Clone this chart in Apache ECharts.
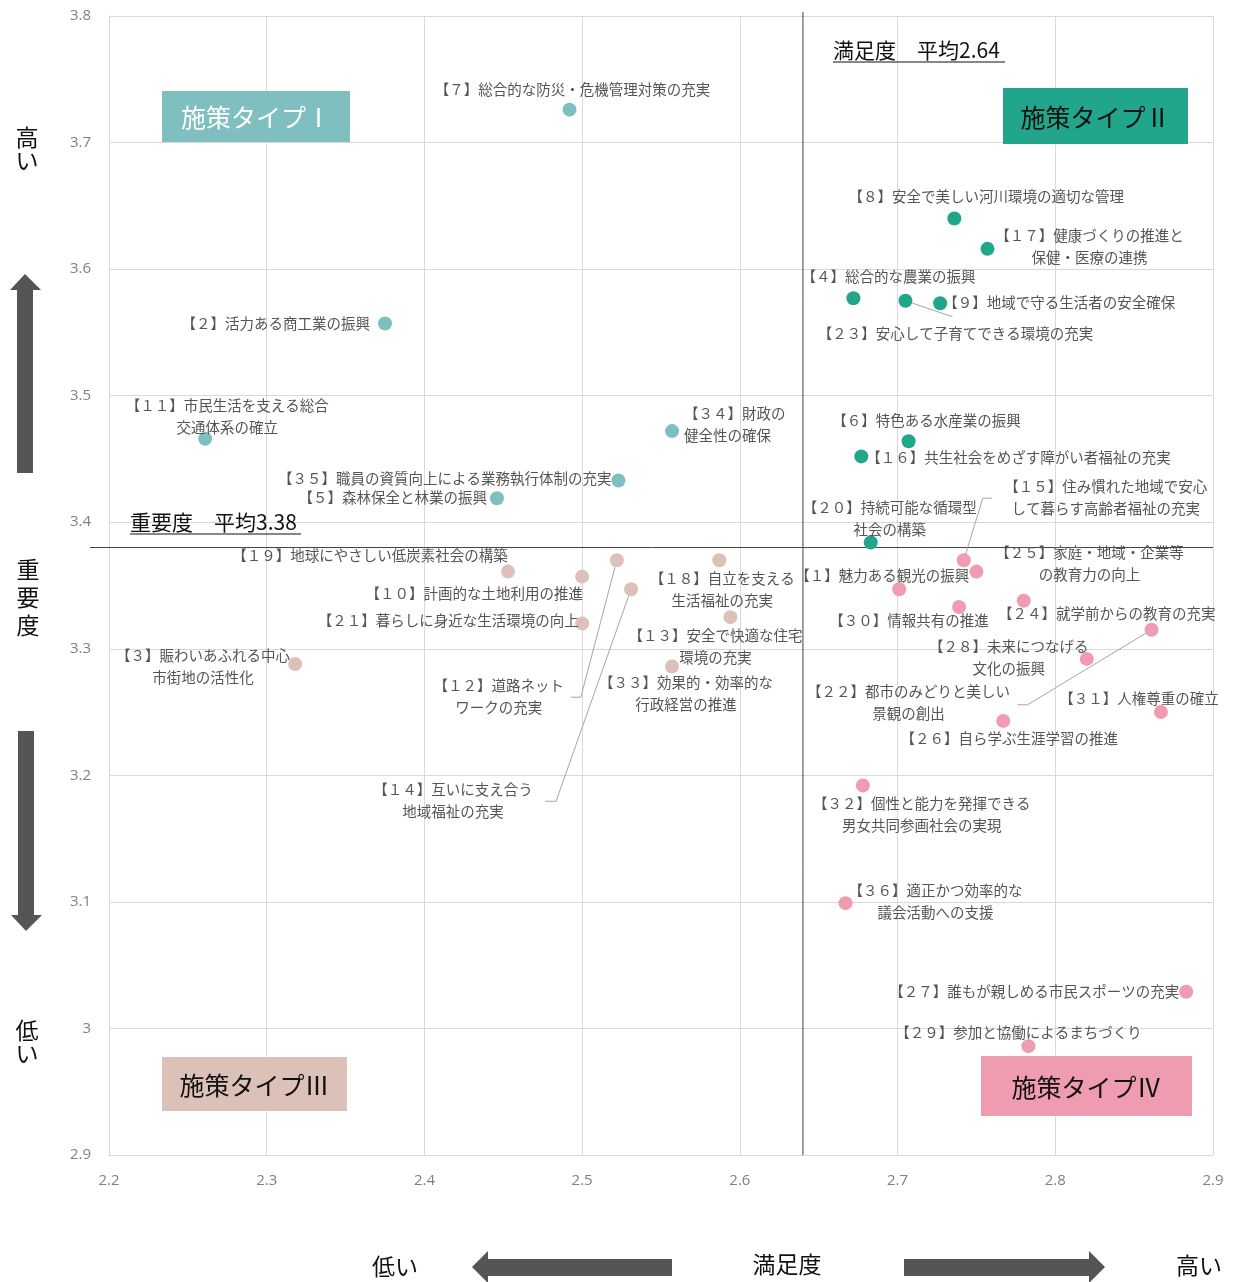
<!DOCTYPE html>
<html lang="ja">
<head>
<meta charset="utf-8">
<title>施策の重要度・満足度</title>
<script src="https://cdn.jsdelivr.net/npm/echarts@6/dist/echarts.min.js"></script>
<style>
  html, body { margin: 0; padding: 0; background: #fff; }
  #chart { width: 1237px; height: 1282px; }
</style>
</head>
<body>
<div id="chart"></div>
<script>
// 施策名（番号順）
const policyNames = [
  '【１】魅力ある観光の振興',
  '【２】活力ある商工業の振興',
  '【３】賑わいあふれる中心\n市街地の活性化',
  '【４】総合的な農業の振興',
  '【５】森林保全と林業の振興',
  '【６】特色ある水産業の振興',
  '【７】総合的な防災・危機管理対策の充実',
  '【８】安全で美しい河川環境の適切な管理',
  '【９】地域で守る生活者の安全確保',
  '【１０】計画的な土地利用の推進',
  '【１１】市民生活を支える総合\n交通体系の確立',
  '【１２】道路ネット\nワークの充実',
  '【１３】安全で快適な住宅\n環境の充実',
  '【１４】互いに支え合う\n地域福祉の充実',
  '【１５】住み慣れた地域で安心\nして暮らす高齢者福祉の充実',
  '【１６】共生社会をめざす障がい者福祉の充実',
  '【１７】健康づくりの推進と\n保健・医療の連携',
  '【１８】自立を支える\n生活福祉の充実',
  '【１９】地球にやさしい低炭素社会の構築',
  '【２０】持続可能な循環型\n社会の構築',
  '【２１】暮らしに身近な生活環境の向上',
  '【２２】都市のみどりと美しい\n景観の創出',
  '【２３】安心して子育てできる環境の充実',
  '【２４】就学前からの教育の充実',
  '【２５】家庭・地域・企業等\nの教育力の向上',
  '【２６】自ら学ぶ生涯学習の推進',
  '【２７】誰もが親しめる市民スポーツの充実',
  '【２８】未来につなげる\n文化の振興',
  '【２９】参加と協働によるまちづくり',
  '【３０】情報共有の推進',
  '【３１】人権尊重の確立',
  '【３２】個性と能力を発揮できる\n男女共同参画社会の実現',
  '【３３】効果的・効率的な\n行政経営の推進',
  '【３４】財政の\n健全性の確保',
  '【３５】職員の資質向上による業務執行体制の充実',
  '【３６】適正かつ効率的な\n議会活動への支援'
];

// 満足度（横軸）
const satisfaction = [
  2.701, 2.375, 2.318, 2.672, 2.446, 2.707, 2.492, 2.736, 2.727, 2.500,
  2.261, 2.522, 2.594, 2.531, 2.742, 2.677, 2.757, 2.587, 2.453, 2.683,
  2.500, 2.861, 2.705, 2.780, 2.750, 2.767, 2.883, 2.820, 2.783, 2.739,
  2.867, 2.678, 2.557, 2.557, 2.523, 2.667
];

// 重要度（縦軸）
const importance = [
  3.347, 3.557, 3.288, 3.577, 3.419, 3.464, 3.726, 3.640, 3.573, 3.357,
  3.466, 3.370, 3.325, 3.347, 3.370, 3.452, 3.616, 3.370, 3.361, 3.384,
  3.320, 3.315, 3.575, 3.338, 3.361, 3.243, 3.029, 3.292, 2.986, 3.333,
  3.250, 3.192, 3.286, 3.472, 3.433, 3.099
];

// 施策タイプ（1:Ⅰ 2:Ⅱ 3:Ⅲ 4:Ⅳ）
const policyType = [
  4, 1, 3, 2, 1, 2, 1, 2, 2, 3,
  1, 3, 3, 3, 4, 2, 2, 3, 3, 2,
  3, 4, 2, 4, 4, 4, 4, 4, 4, 4,
  4, 4, 3, 1, 1, 4
];

const typeNames = ['施策タイプⅠ', '施策タイプⅡ', '施策タイプⅢ', '施策タイプⅣ'];
const satisfactionAvg = 2.64;
const importanceAvg = 3.38;
const xTicks = { min: 2.2, max: 2.9, interval: 0.1 };
const yTicks = { min: 2.9, max: 3.8, interval: 0.1 };

// ---- 見た目の設定 ----
const typeColors = ['#7fbfbf', '#21a68b', '#dcc1b8', '#f09cb0'];
const boxTextColors = ['#ffffff', '#111111', '#111111', '#111111'];
const FONT = '"Noto Sans CJK JP", "Noto Sans", sans-serif';

// ラベル配置 [dx, dy, align]（点の中心からのピクセル量）
const labelPlacement = {
  1: [-17, -14, 'center'], 2: [-15, 0, 'right'], 3: [-92, 3, 'center'],
  4: [35, -22, 'center'], 5: [-10, -1, 'right'], 6: [18, -21, 'center'],
  7: [3, -20, 'center'], 8: [32, -22, 'center'], 9: [3, -1, 'left'],
  10: [-108, 17, 'center'], 11: [22, -22, 'center'], 12: [-118, 136, 'center'],
  13: [-15, 29, 'center'], 14: [-178, 211, 'center'], 15: [142, -63, 'center'],
  16: [5, 1, 'left'], 17: [102, -2, 'center'], 18: [3, 29, 'center'],
  19: [-138, -16, 'center'], 20: [19, -24, 'center'], 21: [-134, -3, 'center'],
  22: [-243, 73, 'center'], 23: [50, 33, 'center'], 24: [83, 13, 'center'],
  25: [113, -8, 'center'], 26: [6, 18, 'center'], 27: [-7, 0, 'right'],
  28: [-78, -1, 'center'], 29: [-10, -14, 'center'], 30: [-50, 13, 'center'],
  31: [-22, -14, 'center'], 32: [59, 29, 'center'], 33: [14, 27, 'center'],
  34: [12, -7, 'left'], 35: [-7, -2, 'right'], 36: [90, -2, 'center']
};

// 引き出し線の折れ点（点の中心からのピクセル量）
const leaderLines = {
  12: [[-36, 137], [-46, 137]],
  14: [[-75, 212], [-86, 212]],
  15: [[19, -62], [28, -62]],
  22: [[-124, 75], [-134, 75]],
  23: [[47, 16]]
};

const chart = echarts.init(document.getElementById('chart'), null, { renderer: 'canvas' });

function buildSeries(t) {
  const data = [];
  policyNames.forEach((name, i) => {
    if (policyType[i] !== t + 1) return;
    const id = i + 1;
    const p = labelPlacement[id];
    data.push({
      name: name,
      value: [satisfaction[i], importance[i]],
      label: {
        show: true,
        position: 'inside',
        formatter: name,
        offset: [p[0], p[1]],
        align: p[2],
        verticalAlign: 'middle'
      }
    });
  });
  return {
    type: 'scatter',
    name: typeNames[t],
    symbolSize: 14,
    z: 5,
    itemStyle: { color: typeColors[t], opacity: 1 },
    label: {
      fontFamily: FONT,
      fontSize: 14.5,
      color: '#555555',
      lineHeight: 22
    },
    emphasis: { disabled: true },
    data: data
  };
}

const axisCommon = {
  type: 'value',
  axisLine: { show: true, lineStyle: { color: '#d9d9d9', width: 1 } },
  axisTick: { show: false },
  splitLine: { show: true, lineStyle: { color: '#d9d9d9', width: 1 } },
  axisLabel: { color: '#808080', fontSize: 15, fontFamily: '"Open Sans", sans-serif' }
};

chart.setOption({
  animation: false,
  backgroundColor: '#ffffff',
  grid: { left: 109, right: 24, top: 16, bottom: 127 },
  xAxis: Object.assign({}, axisCommon, {
    min: xTicks.min, max: xTicks.max, interval: xTicks.interval,
    axisLabel: Object.assign({}, axisCommon.axisLabel, { margin: 18 })
  }),
  yAxis: Object.assign({}, axisCommon, {
    min: yTicks.min, max: yTicks.max, interval: yTicks.interval,
    axisLabel: Object.assign({}, axisCommon.axisLabel, { margin: 18 })
  }),
  series: [0, 1, 2, 3].map(buildSeries)
});

// ---- 注記（平均線・引き出し線・タイプ見出し・軸の矢印） ----
function toPx(x, y) { return chart.convertToPixel({ gridIndex: 0 }, [x, y]); }

const gridTop = toPx(xTicks.min, yTicks.max);
const gridBottom = toPx(xTicks.max, yTicks.min);
const avgPt = toPx(satisfactionAvg, importanceAvg);

const graphics = [];

// 平均線
graphics.push({
  type: 'line', z: 3, silent: true,
  shape: { x1: avgPt[0], y1: gridTop[1] - 4, x2: avgPt[0], y2: gridBottom[1] },
  style: { stroke: '#404040', lineWidth: 1 }
});
graphics.push({
  type: 'line', z: 3, silent: true,
  shape: { x1: gridTop[0] - 19, y1: avgPt[1], x2: gridBottom[0], y2: avgPt[1] },
  style: { stroke: '#404040', lineWidth: 1 }
});

// 引き出し線
Object.keys(leaderLines).forEach(k => {
  const i = Number(k) - 1;
  const c = toPx(satisfaction[i], importance[i]);
  const pts = [c].concat(leaderLines[k].map(d => [c[0] + d[0], c[1] + d[1]]));
  graphics.push({
    type: 'polyline', z: 4, silent: true,
    shape: { points: pts },
    style: { stroke: '#a6a6a6', lineWidth: 1, fill: null }
  });
});

// 平均値の見出し（下線付き）
function underlinedText(text, x, y, w) {
  graphics.push({
    type: 'text', z: 6, silent: true,
    style: { text: text, x: x, y: y, fontSize: 21, fontFamily: FONT, fill: '#111', textAlign: 'left', textVerticalAlign: 'middle' }
  });
  graphics.push({
    type: 'line', z: 6, silent: true,
    shape: { x1: x, y1: y + 12, x2: x + w, y2: y + 12 },
    style: { stroke: '#111', lineWidth: 1.2 }
  });
}
underlinedText('満足度　平均2.64', 833, 50, 172);
underlinedText('重要度　平均3.38', 130, 522, 171);

// タイプ見出しの箱
const typeBoxes = [
  [162, 91, 188, 51],
  [1003, 88, 185, 56],
  [162, 1057, 185, 54],
  [981, 1056, 211, 60]
];
typeBoxes.forEach((b, t) => {
  graphics.push({
    type: 'rect', z: 6, silent: true,
    shape: { x: b[0], y: b[1], width: b[2], height: b[3] },
    style: { fill: typeColors[t] }
  });
  graphics.push({
    type: 'text', z: 7, silent: true,
    style: {
      text: typeNames[t], x: b[0] + b[2] / 2, y: b[1] + b[3] / 2 + 1,
      fontSize: 25, fontFamily: FONT, fill: boxTextColors[t],
      textAlign: 'center', textVerticalAlign: 'middle'
    }
  });
});

// 軸の説明文字
function plainText(text, x, y, lh) {
  graphics.push({
    type: 'text', z: 6, silent: true,
    style: {
      text: text, x: x, y: y, fontSize: 23, lineHeight: lh || 26, fontFamily: FONT, fill: '#111',
      textAlign: 'center', textVerticalAlign: 'middle'
    }
  });
}
plainText('高\nい', 27, 149, 23);
plainText('重\n要\n度', 28, 597, 28);
plainText('低\nい', 27, 1042, 23);
plainText('低い', 395, 1266);
plainText('満足度', 787, 1264);
plainText('高い', 1199, 1265);

// 矢印
const ARROW = '#555555';
function arrow(points) {
  graphics.push({ type: 'polygon', z: 6, silent: true, shape: { points: points }, style: { fill: ARROW } });
}
// 上向き
arrow([[25, 274], [41, 290], [33, 290], [33, 473], [17, 473], [17, 290], [10, 290]]);
// 下向き
arrow([[18, 731], [34, 731], [34, 915], [42, 915], [26, 931], [11, 915], [18, 915]]);
// 左向き
arrow([[472, 1267], [488, 1251], [488, 1259], [672, 1259], [672, 1276], [488, 1276], [488, 1283]]);
// 右向き
arrow([[904, 1259], [1089, 1259], [1089, 1251], [1105, 1267], [1089, 1283], [1089, 1276], [904, 1276]]);

chart.setOption({ graphic: graphics });
</script>
</body>
</html>
